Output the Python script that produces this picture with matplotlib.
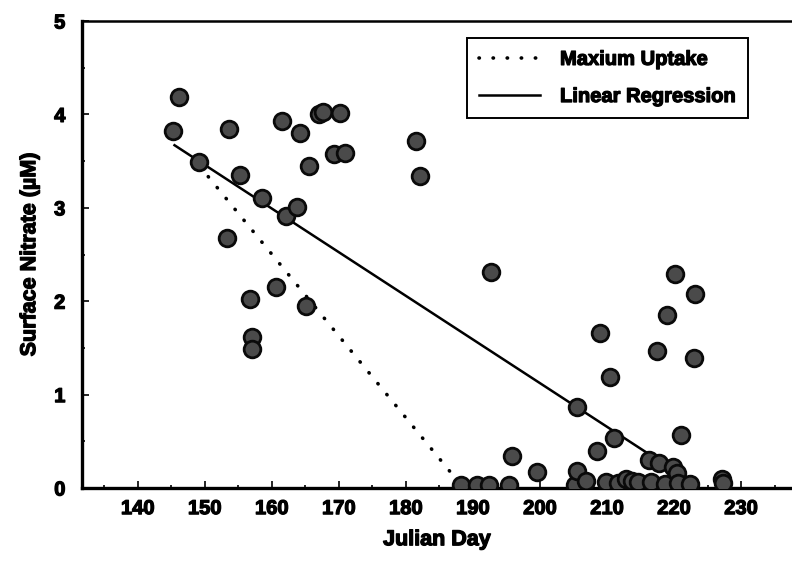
import numpy as np
import matplotlib
matplotlib.use("Agg")
import matplotlib.pyplot as plt
import matplotlib.patheffects as pe
from matplotlib.ticker import MultipleLocator

plt.rcParams['font.family'] = ['Liberation Sans', 'DejaVu Sans']
plt.rcParams['font.weight'] = 'bold'

# surface nitrate measurements (julian day, uM)
day = [145.2, 146.1, 149.2, 153.4, 153.7, 155.3, 156.8, 157.1, 157.1, 158.5,
       160.6, 161.6, 162.2, 163.8, 164.2, 165.1, 165.5, 167.1, 167.7, 169.3,
       170.2, 171.0, 181.5, 182.1, 192.7,
       188.2, 190.6, 192.4, 195.4, 195.8, 199.6, 205.2, 205.5, 205.6, 206.8,
       208.5, 208.9, 209.8, 210.5, 211.0, 211.6, 212.8, 213.8, 214.7, 216.2,
       216.5, 217.4, 217.7, 218.7, 218.9, 219.9, 220.1, 220.4, 220.6, 221.0,
       222.4, 223.0, 223.2, 227.1, 227.3]
nitrate = [3.82, 4.19, 3.49, 2.68, 3.84, 3.35, 2.02, 1.62, 1.49, 3.11,
           2.15, 3.93, 2.91, 3.01, 3.80, 1.95, 3.45, 4.00, 4.03, 3.58,
           4.01, 3.59, 3.71, 3.34, 2.31,
           0.03, 0.03, 0.03, 0.03, 0.34, 0.17, 0.03, 0.87, 0.18, 0.08,
           0.40, 1.66, 0.06, 1.19, 0.54, 0.05, 0.10, 0.08, 0.06, 0.30,
           0.06, 1.47, 0.27, 0.04, 1.85, 0.23, 2.29, 0.16, 0.05, 0.57,
           0.04, 1.39, 2.08, 0.10, 0.05]

# fitted lines (end points)
uptake_x = [149.2, 188.6]
uptake_y = [3.45, 0.0]
regress_x = [145.5, 223.6]
regress_y = [3.67, 0.02]

heavy = [pe.withStroke(linewidth=0.9, foreground="black")]

fig = plt.figure(figsize=(7.92, 5.65), dpi=100)
ax = fig.add_axes([82/792, 1-488/565, 1-82/792, (488-21)/565])

ax.plot(uptake_x, uptake_y, color="black", lw=2.6, dashes=(0.1, 3.8),
        dash_capstyle="round", label="Maxium Uptake", zorder=2)
ax.plot(regress_x, regress_y, color="black", lw=1.8, label="Linear Regression", zorder=2)
ax.plot(day, nitrate, "o", ms=12, mfc="#4a4a4a", mec="#0a0a0a", mew=2, zorder=3)

ax.set_xlim(131.7, 237.6)
ax.set_ylim(0, 5)
ax.xaxis.set_minor_locator(MultipleLocator(5))
ax.yaxis.set_major_locator(MultipleLocator(1))
ax.yaxis.set_minor_locator(MultipleLocator(0.5))
ax.set_xticks(np.arange(140, 231, 10))
ax.tick_params(which="both", direction="in", width=1.2)
ax.tick_params(which="major", length=5)
ax.tick_params(which="minor", length=2.5)
ax.tick_params(axis="x", labelsize=14.5, pad=8)
ax.tick_params(axis="y", labelsize=14.5, pad=12)
for lab in ax.get_xticklabels() + ax.get_yticklabels():
    lab.set_fontweight("bold")
    lab.set_path_effects(heavy)

ax.spines["left"].set_linewidth(2.4)
ax.spines["bottom"].set_linewidth(2.4)
ax.spines["top"].set_linewidth(1.8)
ax.spines["right"].set_visible(False)

ax.set_xlabel("Julian Day", fontsize=15.5, fontweight="bold", labelpad=8,
              path_effects=heavy)
ax.set_ylabel("Surface Nitrate (µM)", fontsize=15.5, fontweight="bold", labelpad=10,
              path_effects=heavy)

leg = ax.legend(loc="upper right", bbox_to_anchor=(0.938, 0.964), borderaxespad=0,
                fontsize=14.5, fancybox=False, framealpha=1, edgecolor="black",
                handlelength=3, handletextpad=1.0, borderpad=0.6, labelspacing=0.9)
leg.get_frame().set_linewidth(1.4)
for t in leg.get_texts():
    t.set_path_effects(heavy)

plt.savefig("out.png", dpi=100)
